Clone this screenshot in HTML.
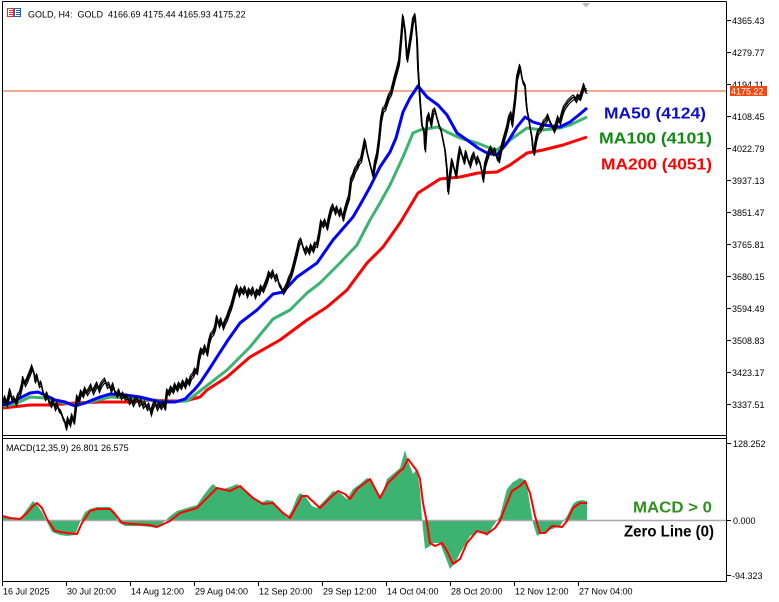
<!DOCTYPE html>
<html>
<head>
<meta charset="utf-8">
<style>
html,body{margin:0;padding:0;background:#fff;}
svg{display:block;}
text{font-family:"Liberation Sans",Arial,sans-serif;}
.ax{font-size:9px;fill:#000;}
.lg{font-size:16px;font-weight:bold;}
</style>
</head>
<body>
<svg width="779" height="602" viewBox="0 0 779 602" xmlns="http://www.w3.org/2000/svg">
<defs>
<polyline id="px" points="3,403 5,398 7,404 9,395 10,390 12,400 14,398 16,403 18,396 20,393 22,385 23,378 25,384 27,380 29,375 31,370 32,367 34,373 35,380 37,376 39,385 41,383 43,392 45,398 47,394 49,402 51,405 53,400 55,408 57,404 59,410 61,412 63,418 65,422 66,428 68,419 70,424 72,416 74,422 75,414 77,397 79,400 81,392 83,395 85,389 87,393 89,390 91,386 93,392 95,388 97,384 99,390 101,385 103,382 105,380 107,386 109,384 111,390 113,385 115,392 117,395 119,391 121,397 123,394 125,398 127,396 129,402 131,399 133,404 135,400 137,398 139,404 141,401 143,406 145,403 147,408 149,405 151,413 153,406 155,402 157,408 159,404 161,407 163,403 165,408 167,391 169,393 171,388 173,391 175,385 177,389 179,384 181,387 183,382 185,386 187,380 189,383 191,377 193,375 195,370 197,372 199,358 201,350 203,352 205,347 207,354 209,342 211,335 213,333 215,328 217,317 219,325 221,320 223,327 225,322 227,318 229,312 231,307 233,300 235,292 237,287 239,294 241,289 243,292 245,288 247,295 249,290 251,293 253,289 255,296 257,291 259,293 261,287 263,290 265,285 267,280 269,273 271,276 273,272 275,279 277,276 279,284 281,287 283,292 285,289 287,285 289,279 291,275 293,268 295,260 297,252 299,243 301,240 303,247 305,252 307,248 309,252 311,246 313,250 315,244 317,245 319,235 321,222 323,225 325,221 327,228 329,218 331,210 333,206 335,212 337,208 339,214 341,210 343,219 345,210 347,203 349,197 351,180 353,176 355,170 357,167 359,162 361,160 363,150 365,140 367,152 369,160 371,168 373,176 375,163 377,155 379,140 381,120 383,110 385,108 387,102 389,96 391,93 393,85 395,77 397,70 399,62 401,40 403,16 405,30 407,60 409,48 411,35 413,20 415,16 417,40 418,68 420,100 422,126 424,130 425,150 427,120 429,115 431,125 433,112 435,110 437,118 439,125 441,130 443,140 445,150 447,170 448,192 450,175 452,160 454,168 456,176 458,160 460,148 462,155 464,162 466,152 468,160 470,165 472,158 474,154 476,162 478,158 480,163 482,172 483,180 485,165 487,158 489,152 491,148 493,153 495,150 497,158 499,160 501,150 503,142 505,135 507,128 509,118 511,114 512,125 514,108 515,100 517,78 519,70 520,66 522,78 523,82 525,85 526,100 527,110 529,120 530,127 532,138 533,150 534,153 536,140 538,132 540,130 542,126 544,122 546,120 548,116 550,122 552,126 554,130 556,125 558,118 560,122 562,114 564,108 566,105 568,102 570,100 572,98 574,97 576,100 578,96 580,98 582,92 584,85 585,90 587,91"/>
</defs>
<rect x="0" y="0" width="779" height="602" fill="#fff"/>

<!-- frames -->
<g stroke="#000" stroke-width="1" fill="none" shape-rendering="crispEdges">
  <line x1="2.5" y1="1.5" x2="726.5" y2="1.5"/>
  <line x1="2.5" y1="1.5" x2="2.5" y2="581.5"/>
  <line x1="726.5" y1="1.5" x2="726.5" y2="581.5"/>
  <line x1="2.5" y1="435.5" x2="726.5" y2="435.5"/>
  <line x1="2.5" y1="438.5" x2="726.5" y2="438.5"/>
  <line x1="2.5" y1="581.5" x2="726.5" y2="581.5"/>
</g>

<!-- header -->
<g shape-rendering="crispEdges">
  <rect x="7.5" y="8.5" width="6" height="8" fill="none" stroke="#e03030"/>
  <line x1="9" y1="10.5" x2="13" y2="10.5" stroke="#e03030"/>
  <line x1="9" y1="12.5" x2="13" y2="12.5" stroke="#e03030"/>
  <line x1="9" y1="14.5" x2="13" y2="14.5" stroke="#e03030"/>
  <rect x="14.5" y="8.5" width="6" height="8" fill="none" stroke="#2060c0"/>
  <line x1="16" y1="10.5" x2="20" y2="10.5" stroke="#2060c0"/>
  <line x1="16" y1="12.5" x2="20" y2="12.5" stroke="#2060c0"/>
  <line x1="16" y1="14.5" x2="20" y2="14.5" stroke="#2060c0"/>
</g>
<text class="ax" x="28" y="17.5" xml:space="preserve" style="white-space:pre">GOLD, H4:  GOLD  4166.69 4175.44 4165.93 4175.22</text>

<!-- gray triangle -->
<polygon points="582,3 590,3 586,7.5" fill="#b8b8b8"/>

<!-- current price line -->
<line x1="3" y1="91" x2="726" y2="91" stroke="#e0501c" stroke-width="1" shape-rendering="crispEdges"/>

<!-- MAs -->
<polyline fill="none" stroke="#ff0000" stroke-width="3" stroke-linejoin="round" points="3,408 30,405 50,405 75,403 100,402 130,402 150,400 170,401 185,401 200,397 207,390 227,377 250,357 280,340 307,320 327,307 347,290 367,263 383,247 400,223 403,218 418,193 440,179 460,177 478,173 497,172 510,165 527,153 543,150 563,145 587,137"/>
<polyline fill="none" stroke="#3cb371" stroke-width="3" stroke-linejoin="round" points="3,406 15,404 30,397 45,398 60,402 75,405 90,402 110,397 130,398 150,400 170,402 187,401 200,391 227,370 250,347 273,319 290,310 307,293 320,283 340,263 357,245 370,220 380,203 390,185 403,157 413,133 420,130 438,127 447,132 460,138 477,143 490,148 497,150 510,140 527,128 543,130 560,128 570,125 587,117"/>
<polyline fill="none" stroke="#0000ff" stroke-width="3" stroke-linejoin="round" points="3,405 10,403 20,398 30,393 38,392 45,395 55,400 65,402 75,406 85,403 100,397 110,394 125,395 140,397 160,402 175,402 185,399 195,389 200,383 210,368 217,357 228,340 240,323 257,310 273,294 283,292 297,277 317,263 333,240 353,217 360,205 370,187 380,167 390,152 396,138 403,112 410,98 418,86 427,97 438,105 447,115 457,133 467,140 478,148 487,153 497,155 507,143 517,127 525,117 533,122 543,125 560,127 570,122 580,114 587,108"/>

<!-- price -->
<use href="#px" fill="none" stroke="#000" stroke-width="1.6"/>
<use href="#px" transform="translate(0.5,2.5)" fill="none" stroke="#000" stroke-width="1.2"/>
<use href="#px" transform="translate(-0.5,-2)" fill="none" stroke="#000" stroke-width="1"/>

<!-- MA legend -->
<text class="lg" x="604" y="118.5" fill="#0d0dc8" textLength="102" lengthAdjust="spacingAndGlyphs">MA50 (4124)</text>
<text class="lg" x="599" y="143.3" fill="#118a11" textLength="113" lengthAdjust="spacingAndGlyphs">MA100 (4101)</text>
<text class="lg" x="601" y="169.5" fill="#ff0000" textLength="111" lengthAdjust="spacingAndGlyphs">MA200 (4051)</text>

<!-- right axis main -->
<g stroke="#000" shape-rendering="crispEdges">
  <line x1="727" y1="20.5" x2="731" y2="20.5"/>
  <line x1="727" y1="52.5" x2="731" y2="52.5"/>
  <line x1="727" y1="84.5" x2="731" y2="84.5"/>
  <line x1="727" y1="116.5" x2="731" y2="116.5"/>
  <line x1="727" y1="148.5" x2="731" y2="148.5"/>
  <line x1="727" y1="180.5" x2="731" y2="180.5"/>
  <line x1="727" y1="212.5" x2="731" y2="212.5"/>
  <line x1="727" y1="244.5" x2="731" y2="244.5"/>
  <line x1="727" y1="276.5" x2="731" y2="276.5"/>
  <line x1="727" y1="308.5" x2="731" y2="308.5"/>
  <line x1="727" y1="340.5" x2="731" y2="340.5"/>
  <line x1="727" y1="372.5" x2="731" y2="372.5"/>
  <line x1="727" y1="404.5" x2="731" y2="404.5"/>
  <line x1="727" y1="443.5" x2="731" y2="443.5"/>
  <line x1="727" y1="520.5" x2="731" y2="520.5"/>
  <line x1="727" y1="575.5" x2="731" y2="575.5"/>
</g>
<g class="ax">
  <text class="ax" x="732" y="24">4365.43</text>
  <text class="ax" x="732" y="56">4279.77</text>
  <text class="ax" x="732" y="88">4194.11</text>
  <text class="ax" x="732" y="120">4108.45</text>
  <text class="ax" x="732" y="152">4022.79</text>
  <text class="ax" x="732" y="184">3937.13</text>
  <text class="ax" x="732" y="216">3851.47</text>
  <text class="ax" x="732" y="248">3765.81</text>
  <text class="ax" x="732" y="280">3680.15</text>
  <text class="ax" x="732" y="312">3594.49</text>
  <text class="ax" x="732" y="344">3508.83</text>
  <text class="ax" x="732" y="376">3423.17</text>
  <text class="ax" x="732" y="408">3337.51</text>
  <text class="ax" x="733" y="447">128.252</text>
  <text class="ax" x="733" y="524">0.000</text>
  <text class="ax" x="732" y="579">-94.323</text>
</g>
<rect x="730" y="86" width="37" height="10" fill="#f04a10"/>
<text class="ax" x="731" y="94.5" style="fill:#fff">4175.22</text>

<!-- MACD pane -->
<text class="ax" x="6" y="451">MACD(12,35,9) 26.801 26.575</text>
<polygon fill="#3cb371" points="3,516 10,518 20,519 25,512 30,505 33,501 37,505 42,512 47,522 52,532 60,535 67,536 75,535 80,522 85,512 90,509 97,507 110,507 115,512 118,522 125,526 140,526 150,527 157,528 165,521 170,516 177,511 190,507 197,505 203,496 210,487 213,484 220,490 230,487 237,484 245,492 255,500 260,503 267,500 273,501 280,510 287,518 292,510 297,497 300,493 305,496 312,506 317,508 325,500 333,491 340,493 347,499 353,489 360,484 367,478 372,480 377,494 380,499 384,488 387,479 393,474 400,468 405,450 408,461 413,474 417,469 420,490 422,519 425,549 430,546 433,543 440,543 445,556 450,569 455,563 460,553 465,545 470,536 480,531 487,536 493,526 500,516 504,500 507,489 513,482 520,478 525,480 527,486 530,505 533,523 537,536 542,533 547,531 560,526 564,520 567,516 573,504 577,501 582,500 587,501 587,520 3,520"/>
<line x1="3" y1="520.5" x2="726" y2="520.5" stroke="#a8a8a8" stroke-width="1.5"/>
<polyline fill="none" stroke="#ff0000" stroke-width="2" stroke-linejoin="round" points="3,516 10,518 20,519 27,513 33,506 37,503 42,508 47,519 55,531 67,533 77,534 82,523 90,511 97,509 110,509 115,514 122,523 133,524 150,525 157,527 170,521 180,513 197,508 207,498 217,488 230,491 240,486 253,498 263,504 273,503 283,513 290,518 302,496 307,496 320,508 330,498 338,491 345,494 350,499 357,489 370,479 380,498 388,483 400,471 403,469 408,459 417,471 420,479 423,503 427,523 430,543 435,546 442,543 447,551 453,564 460,559 467,543 477,531 487,534 495,528 500,521 505,508 512,491 520,486 525,481 530,493 535,516 540,533 545,533 552,526 562,527 567,521 573,508 580,503 587,503"/>

<text class="lg" x="633" y="512.7" fill="#2f8f1f" textLength="79" lengthAdjust="spacingAndGlyphs">MACD &gt; 0</text>
<text class="lg" x="624" y="536.5" fill="#000" textLength="90" lengthAdjust="spacingAndGlyphs">Zero Line (0)</text>

<!-- time axis -->
<g stroke="#000" shape-rendering="crispEdges">
  <line x1="2.5" y1="582" x2="2.5" y2="586"/>
  <line x1="66.5" y1="582" x2="66.5" y2="586"/>
  <line x1="130.5" y1="582" x2="130.5" y2="586"/>
  <line x1="194.5" y1="582" x2="194.5" y2="586"/>
  <line x1="258.5" y1="582" x2="258.5" y2="586"/>
  <line x1="322.5" y1="582" x2="322.5" y2="586"/>
  <line x1="386.5" y1="582" x2="386.5" y2="586"/>
  <line x1="450.5" y1="582" x2="450.5" y2="586"/>
  <line x1="514.5" y1="582" x2="514.5" y2="586"/>
  <line x1="578.5" y1="582" x2="578.5" y2="586"/>
</g>
<text class="ax" x="3" y="594.5">16 Jul 2025</text>
<text class="ax" x="67" y="594.5">30 Jul 20:00</text>
<text class="ax" x="131" y="594.5">14 Aug 12:00</text>
<text class="ax" x="195" y="594.5">29 Aug 04:00</text>
<text class="ax" x="259" y="594.5">12 Sep 20:00</text>
<text class="ax" x="323" y="594.5">29 Sep 12:00</text>
<text class="ax" x="387" y="594.5">14 Oct 04:00</text>
<text class="ax" x="451" y="594.5">28 Oct 20:00</text>
<text class="ax" x="515" y="594.5">12 Nov 12:00</text>
<text class="ax" x="579" y="594.5">27 Nov 04:00</text>
</svg>
</body>
</html>
